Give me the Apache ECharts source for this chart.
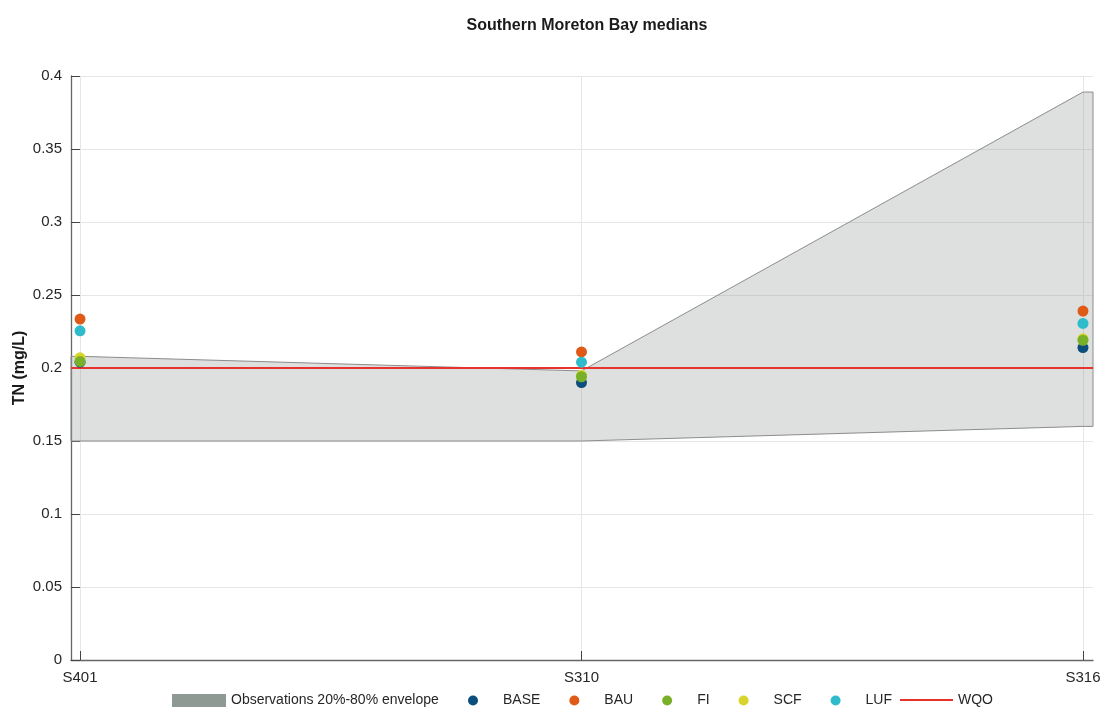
<!DOCTYPE html>
<html>
<head>
<meta charset="utf-8">
<script src="https://cdn.jsdelivr.net/npm/echarts@6/dist/echarts.min.js"></script>
<style>
html,body{margin:0;padding:0;background:#fff;}
#chart{width:1111px;height:708px;}
</style>
</head>
<body>
<div id="chart"></div>
<script>
// ---- data ----
const sites = ['S401', 'S310', 'S316'];
const BASE = [0.204, 0.190, 0.214];
const BAU  = [0.2335, 0.211, 0.239];
const FI   = [0.2045, 0.194, 0.219];
const SCF  = [0.207, 0.195, 0.220];
const LUF  = [0.2255, 0.204, 0.2305];
const envLow  = [0.150, 0.150, 0.160];
const envHigh = [0.208, 0.198, 0.389];
const WQO = 0.2;
const yTicks = [0, 0.05, 0.1, 0.15, 0.2, 0.25, 0.3, 0.35, 0.4];

const XMIN = -0.018, XMAX = 2.02;
const siteIdx = sites.map((s, i) => i);
const pts = arr => arr.map((v, i) => [i, v]);

const font = 'Liberation Sans, Arial, Helvetica, sans-serif';
const txt = '#262626';

const chart = echarts.init(document.getElementById('chart'), null, {renderer: 'canvas'});

const envData = siteIdx.map(i => [i, envLow[i], envHigh[i]]);

const option = {
  backgroundColor: '#ffffff',
  animation: false,
  title: {
    text: 'Southern Moreton Bay medians',
    left: 582, textAlign: 'center', top: 13,
    textStyle: {fontFamily: font, fontSize: 16, fontWeight: 'bold', color: '#1a1a1a'}
  },
  grid: {left: 71, right: 18, top: 76, bottom: 48, containLabel: false},
  xAxis: {
    type: 'value', min: XMIN, max: XMAX,
    axisLine: {show: true, onZero: false, lineStyle: {color: '#666', width: 1.3}},
    axisTick: {show: true, inside: true, length: 9, customValues: siteIdx, lineStyle: {color: '#444'}},
    axisLabel: {
      customValues: siteIdx, margin: 10,
      formatter: v => sites[Math.round(v)] || '',
      fontFamily: font, fontSize: 15, color: txt
    },
    splitLine: {show: true, lineStyle: {color: '#e6e6e6', width: 1}}
  },
  yAxis: {
    type: 'value', min: 0, max: 0.4, interval: 0.05,
    name: 'TN (mg/L)', nameLocation: 'middle', nameGap: 43, nameRotate: 90,
    nameMoveOverlap: false,
    nameTextStyle: {fontFamily: font, fontSize: 16, fontWeight: 'bold', color: '#1a1a1a'},
    axisLine: {show: true, onZero: false, lineStyle: {color: '#666', width: 1.3}},
    axisTick: {show: true, inside: true, length: 9, lineStyle: {color: '#444'}},
    axisLabel: {
      fontFamily: font, fontSize: 15, color: txt, margin: 9,
      formatter: v => String(+v.toFixed(2))
    },
    splitLine: {show: true, lineStyle: {color: '#e6e6e6', width: 1}}
  },
  legend: [
    {
      data: [{name: 'Observations 20%-80% envelope', icon: 'rect', itemStyle: {color: '#8f9994', borderWidth: 0}}],
      left: 172, top: 693.5, padding: 0, itemWidth: 54, itemHeight: 13,
      textStyle: {fontFamily: font, fontSize: 14, color: txt}
    },
    {
      data: ['BASE', 'BAU', 'FI', 'SCF', 'LUF'],
      left: 468, top: 693.5, padding: 0, itemWidth: 10, itemHeight: 10, itemGap: 29, icon: 'circle',
      textStyle: {fontFamily: font, fontSize: 14, color: txt, padding: [0, 0, 0, 20]}
    },
    {
      data: [{name: 'WQO', icon: 'path://M0,0L0.01,0L0.01,0.01ZM0,6L53,6L53,8L0,8ZM0,14L0.01,14L0.01,13.99Z', itemStyle: {color: '#e8322b', borderWidth: 0}}],
      left: 900, top: 693, padding: 0, itemWidth: 53, itemHeight: 14,
      textStyle: {fontFamily: font, fontSize: 14, color: txt}
    }
  ],
  series: [
    {
      name: 'Observations 20%-80% envelope',
      type: 'custom',
      data: envData,
      z: 1,
      itemStyle: {color: '#8f9994'},
      renderItem: function (params, api) {
        if (params.dataIndex !== 0) return null;
        const top = [], bot = [];
        const n = envData.length;
        top.push(api.coord([XMIN, envData[0][2]]));
        bot.push(api.coord([XMIN, envData[0][1]]));
        for (let i = 0; i < n; i++) {
          top.push(api.coord([envData[i][0], envData[i][2]]));
          bot.push(api.coord([envData[i][0], envData[i][1]]));
        }
        top.push(api.coord([XMAX, envData[n - 1][2]]));
        bot.push(api.coord([XMAX, envData[n - 1][1]]));
        const poly = top.concat(bot.reverse());
        return {
          type: 'polygon',
          shape: {points: poly},
          style: {fill: 'rgba(143,153,148,0.3)', stroke: '#8c8c8c', lineWidth: 1}
        };
      }
    },
    {
      name: 'WQO', type: 'line', z: 3,
      data: [[XMIN, WQO], [XMAX, WQO]],
      symbol: 'none', showSymbol: false,
      itemStyle: {color: '#e8322b'},
      lineStyle: {color: '#e8322b', width: 2}
    },
    {name: 'BASE', type: 'scatter', z: 4, data: pts(BASE), symbolSize: 11, itemStyle: {color: '#0c4f7c', opacity: 1}},
    {name: 'BAU',  type: 'scatter', z: 4, data: pts(BAU),  symbolSize: 11, itemStyle: {color: '#e05a17', opacity: 1}},
    {name: 'SCF',  type: 'scatter', z: 4, data: pts(SCF),  symbolSize: 11, itemStyle: {color: '#d9d42c', opacity: 1}},
    {name: 'FI',   type: 'scatter', z: 4, data: pts(FI),   symbolSize: 11, itemStyle: {color: '#79b02a', opacity: 1}},
    {name: 'LUF',  type: 'scatter', z: 4, data: pts(LUF),  symbolSize: 11, itemStyle: {color: '#2ebccd', opacity: 1}}
  ]
};
chart.setOption(option);
</script>
</body>
</html>
